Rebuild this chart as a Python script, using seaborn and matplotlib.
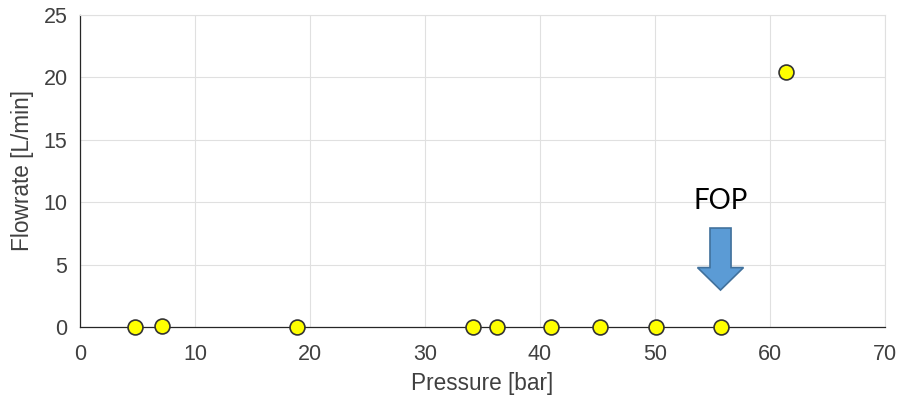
import pandas            as pd
import matplotlib
matplotlib.use("Agg")
import matplotlib.pyplot as plt
import seaborn           as sns
from matplotlib.patches import FancyArrow

# 読み取った値
pressure = [4.8, 7.1, 18.9, 34.2, 36.3, 41.0, 45.2, 50.1, 55.7, 61.4]
flowrate = [0.0, 0.1, 0.0, 0.0, 0.0, 0.0, 0.0, 0.0, 0.0, 20.4]
fop_pressure = 55.7

df = pd.DataFrame({"Pressure": pressure, "Flowrate": flowrate})

sns.set_style("whitegrid")
plt.rcParams["font.family"] = ["Liberation Sans", "DejaVu Sans"]

fig = plt.figure(figsize=(9.02, 4.03), dpi=100)
ax = fig.add_axes([0.0887, 0.1886, 0.8924, 0.7742])

sns.scatterplot(data=df, x="Pressure", y="Flowrate", ax=ax,
                color="#ffff00", edgecolor="#333333", linewidth=1.2,
                s=115, zorder=3, clip_on=False)

ax.set_xlim(0, 70)
ax.set_ylim(0, 25)
ax.set_xticks(range(0, 71, 10))
ax.set_yticks(range(0, 26, 5))
ax.grid(True, color="#e0e0e0", linewidth=0.8)
ax.tick_params(direction="in", length=4, colors="#404040", labelsize=15.5,
               width=0.8)
ax.tick_params(axis="x", pad=12)
ax.tick_params(axis="y", pad=9)
for s in ["left", "bottom"]:
    ax.spines[s].set_color("#262626")
    ax.spines[s].set_linewidth(0.9)
for s in ["top", "right"]:
    ax.spines[s].set_color("#e0e0e0")
    ax.spines[s].set_linewidth(0.8)

ax.set_xlabel("Pressure [bar]", fontsize=16.3, color="#404040", labelpad=5)
ax.set_ylabel("Flowrate [L/min]", fontsize=16.3, color="#404040", labelpad=7)

# FOP の矢印
arrow = FancyArrow(fop_pressure, 7.93, 0, -4.97, width=1.83, head_width=4.0,
                   head_length=1.8, length_includes_head=True,
                   facecolor="#5b9bd5", edgecolor="#41719c", linewidth=1.2,
                   zorder=4)
ax.add_patch(arrow)
ax.text(fop_pressure, 10.1, "FOP", ha="center", va="center", fontsize=20,
        color="black", family=["Lato", "DejaVu Sans"])

fig.savefig("out.png", dpi=100)
